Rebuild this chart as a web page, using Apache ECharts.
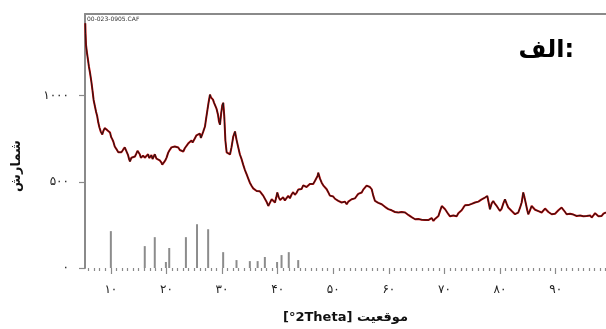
<!DOCTYPE html>
<html>
<head>
<meta charset="utf-8">
<script src="https://cdn.jsdelivr.net/npm/echarts@6/dist/echarts.min.js"></script>
<style>html,body{margin:0;padding:0;background:#fff;}#c{width:606px;height:329px;}</style>
</head>
<body>
<div id="c"></div>
<script>
// ---- data: [2Theta (deg), counts] ----
const scanPoints = [
[5.40,1420],[5.45,1360],[5.53,1295],[5.70,1250],[5.89,1208],[6.05,1170],[6.25,1133],[6.5,1080],[6.7,1030],[6.9,975],
[7.15,936],[7.35,905],[7.55,880],[7.74,844],[7.95,815],[8.2,790],[8.46,775],[8.65,795],[8.9,812],[9.13,821],
[9.35,800],[9.6,805],[9.85,786],[10.05,760],[10.25,748],[10.44,734],[10.7,705],[11.0,690],[11.34,671],[11.6,680],
[11.9,672],[12.24,688],[12.5,700],[12.7,690],[12.85,694],[13.1,655],[13.3,630],[13.44,618],[13.7,640],[14.0,632],
[14.34,647],[14.6,665],[14.8,680],[14.94,688],[15.2,660],[15.4,640],[15.55,630],[15.8,652],[16.1,640],[16.45,647],
[16.7,660],[16.9,638],[17.04,642],[17.3,655],[17.5,632],[17.63,642],[17.9,660],[18.2,635],[18.53,642],[18.8,625],
[19.1,612],[19.25,600],[19.43,590],[19.6,610],[19.8,625],[20.04,642],[20.3,668],[20.5,680],[20.64,688],[20.9,700],
[21.1,694],[21.23,711],[21.5,705],[21.8,712],[22.13,699],[22.4,685],[22.7,690],[23.03,676],[23.3,695],[23.5,688],
[23.64,705],[23.9,722],[24.05,712],[24.23,717],[24.5,740],[24.7,728],[24.83,734],[25.1,752],[25.4,770],[25.73,763],
[26.0,780],[26.2,755],[26.34,746],[26.6,790],[26.93,821],[27.1,860],[27.38,919],[27.6,965],[27.83,1006],[28.0,990],
[28.2,985],[28.37,977],[28.55,960],[28.73,965],[29.0,925],[29.27,890],[29.45,850],[29.63,832],[29.85,900],[30.05,945],
[30.22,959],[30.4,880],[30.6,740],[30.83,671],[31.1,660],[31.43,659],[31.7,700],[32.02,763],[32.33,792],[32.6,745],
[32.92,699],[33.2,660],[33.53,630],[33.8,600],[34.1,570],[34.43,543],[34.7,520],[35.0,495],[35.33,476],[35.6,462],
[35.9,455],[36.23,447],[36.5,440],[36.8,445],[37.13,438],[37.4,420],[37.72,409],[38.0,385],[38.32,360],[38.6,378],
[38.93,399],[39.2,390],[39.52,380],[39.75,410],[39.94,438],[40.2,410],[40.45,395],[40.73,389],[41.0,410],[41.3,392],
[41.63,399],[41.9,418],[42.2,405],[42.53,428],[42.8,440],[43.1,425],[43.43,438],[43.7,455],[44.02,466],[44.3,458],
[44.6,480],[44.92,486],[45.2,470],[45.51,466],[45.8,488],[46.12,495],[46.4,488],[46.7,505],[47.02,514],[47.2,535],
[47.31,553],[47.6,520],[47.92,495],[48.2,480],[48.5,470],[48.82,457],[49.1,440],[49.4,420],[49.72,409],[50.0,415],
[50.3,402],[50.62,399],[50.9,390],[51.2,395],[51.52,380],[51.8,375],[52.1,385],[52.42,370],[52.7,385],[53.0,392],
[53.32,399],[53.6,410],[53.9,404],[54.22,418],[54.5,430],[54.8,425],[55.12,438],[55.4,455],[55.71,466],[56.0,478],
[56.31,486],[56.6,470],[56.92,457],[57.2,420],[57.51,389],[57.8,385],[58.1,378],[58.4,372],[58.72,370],[59.0,360],
[59.3,355],[59.62,351],[59.9,342],[60.2,338],[60.5,335],[60.82,331],[61.1,325],[61.4,328],[61.72,322],[62.0,318],
[62.3,325],[62.6,320],[62.93,322],[63.2,312],[63.5,308],[63.82,302],[64.1,295],[64.4,290],[64.72,283],[65.0,292],
[65.3,284],[65.62,287],[65.9,280],[66.2,290],[66.52,279],[66.8,286],[67.1,278],[67.42,283],[67.7,290],[68.02,273],
[68.3,285],[68.6,295],[68.92,302],[69.2,330],[69.53,360],[69.8,350],[70.12,341],[70.4,330],[70.71,312],[71.0,300],
[71.31,293],[71.6,305],[71.9,312],[72.2,300],[72.5,318],[72.8,322],[73.1,335],[73.4,350],[73.7,364],[74.0,355],
[74.3,365],[74.6,360],[74.9,372],[75.2,368],[75.5,380],[75.8,375],[76.1,385],[76.4,389],[76.7,398],[77.0,392],
[77.3,409],[77.5,415],[77.71,418],[77.95,380],[78.19,341],[78.5,375],[78.78,389],[79.1,372],[79.4,360],[79.7,345],
[79.99,331],[80.3,345],[80.6,375],[80.89,399],[81.2,372],[81.48,351],[81.8,340],[82.1,331],[82.4,320],[82.69,312],
[83.0,318],[83.28,322],[83.6,350],[83.89,380],[84.18,438],[84.4,410],[84.67,370],[84.9,335],[85.08,312],[85.4,335],
[85.69,360],[86.0,350],[86.3,338],[86.59,341],[86.9,330],[87.2,335],[87.49,322],[87.8,330],[88.1,345],[88.39,341],
[88.7,325],[89.0,318],[89.29,312],[89.6,320],[89.9,315],[90.18,322],[90.5,335],[90.8,345],[91.08,351],[91.37,341],
[91.7,325],[91.98,312],[92.3,320],[92.6,315],[92.88,322],[93.2,310],[93.5,315],[93.78,302],[94.1,310],[94.4,305],
[94.68,312],[95.0,300],[95.3,308],[95.58,302],[95.9,298],[96.2,305],[96.48,293],[96.8,305],[97.1,318],[97.38,312],
[97.7,300],[98.0,308],[98.28,302],[98.6,315],[98.85,310],[99.05,322]
];
const stickDeg = [10.0,16.1,17.9,19.9,20.5,23.5,25.5,27.5,30.2,32.6,35.0,36.4,37.7,39.9,40.7,42.0,43.7];
const stickCounts = [214,127,179,35,116,179,254,225,92,46,40,40,64,35,75,92,46];
const xTickValues = [10,20,30,40,50,60,70,80,90];
const xTickLabels = ['۱۰','۲۰','۳۰','۴۰','۵۰','۶۰','۷۰','۸۰','۹۰'];
const xMinorTicks = [6,7,8,9,11,12,13,14,15,16,17,18,19,21,22,23,24,25,26,27,28,29,31,32,33,34,35,36,37,38,39,41,42,43,44,45,46,47,48,49,51,52,53,54,55,56,57,58,59,61,62,63,64,65,66,67,68,69,71,72,73,74,75,76,77,78,79,81,82,83,84,85,86,87,88,89,91,92,93,94,95,96,97,98,99];
const yTickValues = [0,500,1000];
const yTickLabels = ['۰','۵۰۰','۱۰۰۰'];

const sticks = stickDeg.map((d,i)=>[d,stickCounts[i]]);
const FONT = 'DejaVu Sans';
const grey = '#8a8a8a';

const chart = echarts.init(document.getElementById('c'), null, {renderer:'canvas'});
chart.setOption({
  animation:false,
  backgroundColor:'#fff',
  title:{text:'الف:', right:27, top:34, textStyle:{fontFamily:FONT, fontSize:24, fontWeight:'bold', color:'#000'}},
  graphic:[
    {type:'text', left:87, top:16, style:{text:'00-023-0905.CAF', font:'6px '+FONT, fill:'#333'}},
    {type:'text', x:17, y:166, rotation:Math.PI/2,
     style:{text:'شمارش', font:'bold 13px '+FONT, fill:'#111', textAlign:'center', textVerticalAlign:'middle'}}
  ],
  grid:{left:85, right:0, top:14, bottom:60},
  xAxis:[
    {type:'value', min:5.35, max:99.06, position:'bottom',
     axisLine:{show:false}, splitLine:{show:false},
     axisTick:{show:true, customValues:xTickValues, length:6, lineStyle:{color:grey, width:1.2}},
     axisLabel:{show:true, customValues:xTickValues, margin:16, fontFamily:FONT, fontSize:12, color:'#222',
       formatter:v=>{const i=xTickValues.indexOf(Math.round(v)); return i>=0?xTickLabels[i]:'';}},
     name:'[°2Theta] موقعیت', nameLocation:'middle', nameGap:43,
     nameTextStyle:{fontFamily:FONT, fontSize:13, fontWeight:'bold', color:'#111'}},
    {type:'value', min:5.35, max:99.06, position:'bottom',
     axisLine:{show:false}, splitLine:{show:false}, axisLabel:{show:false},
     axisTick:{show:true, customValues:xMinorTicks, length:3, lineStyle:{color:grey, width:1.2}}},
    {type:'value', min:5.35, max:99.06, position:'top',
     axisLine:{show:true, lineStyle:{color:grey, width:2}}, splitLine:{show:false},
     axisLabel:{show:false}, axisTick:{show:false}}
  ],
  yAxis:{type:'value', min:0, max:1474,
    axisLine:{show:true, lineStyle:{color:grey, width:2}}, splitLine:{show:false},
    axisTick:{show:true, customValues:yTickValues, length:6, lineStyle:{color:grey, width:1.2}},
    axisLabel:{customValues:yTickValues, margin:16, fontFamily:FONT, fontSize:12, color:'#222',
      formatter:v=>{const i=yTickValues.indexOf(Math.round(v)); return i>=0?yTickLabels[i]:'';}}},
  series:[
    {type:'bar', xAxisIndex:0, data:sticks, barWidth:2, itemStyle:{color:'#8c8c8c'}, silent:true},
    {type:'line', xAxisIndex:0, data:scanPoints, showSymbol:false, lineStyle:{color:'#c00000', width:2}, silent:true},
    {type:'line', xAxisIndex:0, data:scanPoints, showSymbol:false, lineStyle:{color:'#1a1a1a', width:1}, silent:true}
  ]
});
</script>
</body>
</html>
